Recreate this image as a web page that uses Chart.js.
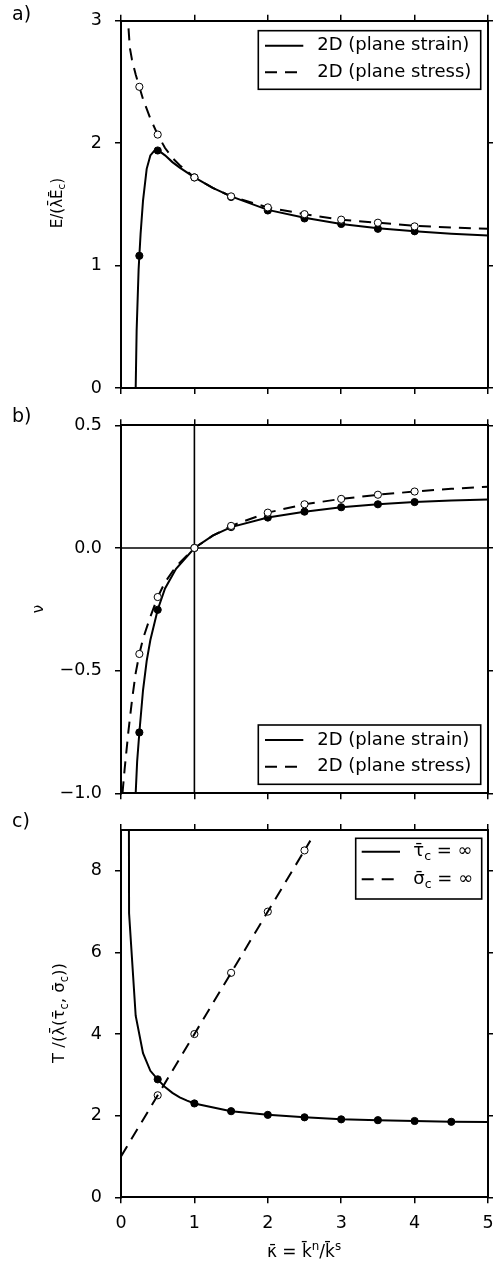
<!DOCTYPE html>
<html>
<head>
<meta charset="utf-8">
<script src="https://cdn.jsdelivr.net/npm/chart.js@4.4.1/dist/chart.umd.min.js"></script>
<style>
  html, body { margin: 0; padding: 0; background: #fff; }
  body { width: 493px; height: 1266px; position: relative; overflow: hidden; }
  canvas { position: absolute; left: 0; }
</style>
</head>
<body>
<canvas id="chartA" width="493" height="405" style="top:0px"></canvas>
<canvas id="chartB" width="493" height="407" style="top:405px"></canvas>
<canvas id="chartC" width="493" height="454" style="top:812px"></canvas>
<script>
// tick values
const xTicks = [0, 1, 2, 3, 4, 5];
const aTicks = [0, 1, 2, 3];
const bTicks = [-1.0, -0.5, 0.0, 0.5];
const cTicks = [0, 2, 4, 6, 8];

// marker positions shared by a) and b)
const markKappa = [0.25, 0.5, 1, 1.5, 2, 2.5, 3, 3.5, 4];

// a) Young's modulus
const aStrainMarks = [1.08, 1.94, 1.72, 1.56, 1.45, 1.385, 1.34, 1.30, 1.28];
const aStressMarks = [2.46, 2.07, 1.72, 1.565, 1.475, 1.42, 1.375, 1.35, 1.32];
const aStrainKappa = [0.2, 0.213, 0.24, 0.25, 0.267, 0.3, 0.35, 0.4, 0.45, 0.5, 0.6, 0.7, 0.8, 1.0, 1.25, 1.5, 2, 2.5, 3, 3.5, 4, 4.5, 5];
const aStrainE     = [0, 0.47, 0.97, 1.08, 1.26, 1.53, 1.79, 1.9, 1.935, 1.945, 1.9, 1.845, 1.8, 1.72, 1.635, 1.565, 1.455, 1.39, 1.34, 1.305, 1.28, 1.26, 1.245];
const aStressKappa = [0.09, 0.1, 0.12, 0.15, 0.2, 0.25, 0.3, 0.4, 0.5, 0.6, 0.7, 0.8, 1.0, 1.25, 1.5, 2, 2.5, 3, 3.5, 4, 4.5, 5];
const aStressE     = [3.1, 2.96, 2.78, 2.68, 2.56, 2.46, 2.36, 2.2, 2.07, 1.96, 1.88, 1.82, 1.72, 1.635, 1.565, 1.475, 1.42, 1.375, 1.35, 1.325, 1.31, 1.30];

// b) Poisson's ratio
const bStrainMarks = [-0.752, -0.252, 0, 0.085, 0.124, 0.148, 0.166, 0.178, 0.187];
const bStressMarks = [-0.432, -0.20, 0, 0.09, 0.144, 0.178, 0.2, 0.217, 0.23];
const bStrainKappa = [0.2, 0.22, 0.25, 0.3, 0.35, 0.4, 0.5, 0.6, 0.75, 1.0, 1.25, 1.5, 2, 2.5, 3, 3.5, 4, 4.5, 5];
const bStrainNu    = [-1.0, -0.87, -0.752, -0.58, -0.46, -0.375, -0.252, -0.165, -0.085, 0, 0.05, 0.085, 0.124, 0.148, 0.166, 0.178, 0.187, 0.193, 0.198];
const bStressKappa = [0.02, 0.05, 0.1, 0.15, 0.2, 0.25, 0.3, 0.4, 0.5, 0.6, 0.75, 1.0, 1.25, 1.5, 2, 2.5, 3, 3.5, 4, 4.5, 5];
const bStressNu    = [-1.0, -0.9, -0.75, -0.62, -0.51, -0.432, -0.37, -0.28, -0.20, -0.14, -0.075, 0, 0.05, 0.09, 0.144, 0.178, 0.2, 0.217, 0.23, 0.241, 0.25];
const bVertKappa = [1, 1];
const bVertNu = [-1.0, 0.5];
const bHorKappa = [0, 5];
const bHorNu = [0, 0];

// c) strength
const cTauKappa = [0.5, 1, 1.5, 2, 2.5, 3, 3.5, 4, 4.5];
const cTauMarks = [2.89, 2.30, 2.11, 2.02, 1.96, 1.91, 1.89, 1.87, 1.85];
const cSigmaKappa = [0.5, 1, 1.5, 2, 2.5];
const cSigmaMarks = [2.5, 4.0, 5.5, 7.0, 8.5];
const cTauCurveKappa = [0.105, 0.11, 0.2, 0.3, 0.4, 0.5, 0.6, 0.7, 0.8, 0.9, 1.0, 1.5, 2, 2.5, 3, 3.5, 4, 4.5, 5];
const cTauCurveT     = [12, 6.96, 4.45, 3.53, 3.1, 2.89, 2.7, 2.56, 2.45, 2.37, 2.30, 2.11, 2.02, 1.96, 1.91, 1.89, 1.87, 1.85, 1.845];
const cSigmaCurveKappa = [0, 2.58];
const cSigmaCurveT = [1.0, 8.74];

Chart.defaults.font.family = '"DejaVu Sans", sans-serif';
Chart.defaults.color = '#000';

const pts = (xs, ys) => xs.map((x, i) => ({ x: x, y: ys[i] }));

const solid = (data) => ({ data, borderColor: '#000', borderWidth: 2, pointRadius: 0, fill: false, tension: 0 });
const dashed = (data) => Object.assign(solid(data), { borderDash: [12, 8] });
const thin = (data) => Object.assign(solid(data), { borderWidth: 1.6 });
const filled = (data) => ({ data, showLine: false, pointRadius: 3.6, pointBackgroundColor: '#000', pointBorderColor: '#000', pointBorderWidth: 1 });
const open = (data) => ({ data, showLine: false, pointRadius: 3.6, pointBackgroundColor: '#fff', pointBorderColor: '#000', pointBorderWidth: 1 });

// text with sub/superscripts, drawn straight on the canvas
function rich(ctx, parts, x, y, size, rotate, align) {
  ctx.save();
  ctx.translate(x, y);
  if (rotate) ctx.rotate(-Math.PI / 2);
  const fontOf = k => (k ? size * 0.7 : size) + 'px "DejaVu Sans"';
  let total = 0;
  const widths = parts.map(p => { ctx.font = fontOf(p[1]); const w = ctx.measureText(p[0]).width; total += w; return w; });
  let cx = align === 'left' ? 0 : -total / 2;
  ctx.textBaseline = 'middle';
  ctx.textAlign = 'left';
  ctx.fillStyle = '#000';
  parts.forEach((p, i) => {
    ctx.font = fontOf(p[1]);
    const dy = p[1] === 'sub' ? size * 0.3 : p[1] === 'sup' ? -size * 0.35 : 0;
    ctx.fillText(p[0], cx, dy);
    cx += widths[i];
  });
  ctx.restore();
}

const decor = {
  id: 'decor',
  afterDraw(chart, args, o) {
    const ctx = chart.ctx;
    const off = o.offset;
    ctx.save();
    ctx.fillStyle = '#000';
    ctx.font = '19px "DejaVu Sans"';
    ctx.textBaseline = 'middle';
    ctx.textAlign = 'left';
    ctx.fillText(o.tag, 12, o.tagY - off);
    rich(ctx, o.yTitle, o.yTitleX, o.yTitleY - off, o.yTitleSize, true, 'center');
    if (o.xTitle) rich(ctx, o.xTitle, o.xTitleX, o.xTitleY - off, 17, false, 'center');

    const L = o.legend;
    ctx.fillStyle = '#fff';
    ctx.fillRect(L.x1, L.y1 - off, L.x2 - L.x1, L.y2 - L.y1);
    ctx.strokeStyle = '#000';
    ctx.lineWidth = 1.6;
    ctx.strokeRect(L.x1, L.y1 - off, L.x2 - L.x1, L.y2 - L.y1);
    L.rows.forEach(r => {
      const ds = chart.data.datasets[r.ds];
      ctx.beginPath();
      ctx.setLineDash(ds.borderDash || []);
      ctx.lineWidth = ds.borderWidth;
      ctx.moveTo(L.sx1, r.y - off);
      ctx.lineTo(L.sx2, r.y - off);
      ctx.stroke();
      ctx.setLineDash([]);
      rich(ctx, r.label, L.tx, r.y - off, L.size, false, 'left');
    });
    ctx.restore();
  }
};

function axis(pos, min, max, ticks, size, showLabels, fmt) {
  const horiz = pos === 'top' || pos === 'bottom';
  return {
    type: 'linear',
    axis: horiz ? 'x' : 'y',
    position: pos,
    min: min,
    max: max,
    afterBuildTicks: s => { s.ticks = ticks.map(v => ({ value: v })); },
    afterFit: s => {
      if (horiz) s.height = size; else s.width = size;
      s.paddingLeft = 0; s.paddingRight = 0; s.paddingTop = 0; s.paddingBottom = 0;
    },
    grid: { drawOnChartArea: false, drawTicks: true, tickLength: 6, color: '#000', lineWidth: 1.5 },
    border: { display: true, color: '#000', width: 2 },
    ticks: {
      display: showLabels,
      padding: horiz ? 10 : 13,
      font: { size: 17.5 },
      color: '#000',
      autoSkip: false,
      maxRotation: 0,
      callback: fmt || (v => String(v))
    }
  };
}

function panel(id, c) {
  return new Chart(document.getElementById(id), {
    type: 'line',
    data: { datasets: c.datasets },
    options: {
      responsive: false,
      animation: false,
      events: [],
      layout: { padding: 0 },
      plugins: { legend: { display: false }, tooltip: { enabled: false }, decor: c.decor },
      scales: {
        x: axis('bottom', 0, 5, xTicks, c.bottomH, c.showX),
        xTop: axis('top', 0, 5, xTicks, c.topH, false),
        y: axis('left', c.yMin, c.yMax, c.yTicks, 121, true, c.fmt),
        yRight: axis('right', c.yMin, c.yMax, c.yTicks, 3, false)
      }
    },
    plugins: [decor]
  });
}

const fmtMinus = v => v.toFixed(1).replace('-', '\u2212');
const planeLabels = [[['2D (plane strain)']], [['2D (plane stress)']]];

panel('chartA', {
  datasets: [
    open(pts(markKappa, aStressMarks)),
    filled(pts(markKappa, aStrainMarks)),
    dashed(pts(aStressKappa, aStressE)),
    solid(pts(aStrainKappa, aStrainE))
  ],
  yMin: 0, yMax: 3, yTicks: aTicks, topH: 20.7, bottomH: 17, showX: false,
  decor: {
    offset: 0, tag: 'a)', tagY: 15.5,
    yTitle: [['E/(\u03bb\u0304\u0112'], ['c', 'sub'], [')']], yTitleX: 58, yTitleY: 203, yTitleSize: 15,
    legend: { x1: 258.3, y1: 30.7, x2: 480.7, y2: 89.3, sx1: 265, sx2: 303.3, tx: 317.3, size: 18,
      rows: [{ ds: 3, y: 45.7, label: planeLabels[0] }, { ds: 2, y: 72.3, label: planeLabels[1] }] }
  }
});

panel('chartB', {
  datasets: [
    open(pts(markKappa, bStressMarks)),
    filled(pts(markKappa, bStrainMarks)),
    dashed(pts(bStressKappa, bStressNu)),
    solid(pts(bStrainKappa, bStrainNu)),
    thin(pts(bVertKappa, bVertNu)),
    thin(pts(bHorKappa, bHorNu))
  ],
  yMin: -1, yMax: 0.5, yTicks: bTicks, topH: 20.3, bottomH: 18.7, showX: false, fmt: fmtMinus,
  decor: {
    offset: 405, tag: 'b)', tagY: 417.5,
    yTitle: [['\u03bd']], yTitleX: 39, yTitleY: 609, yTitleSize: 15,
    legend: { x1: 258.3, y1: 725, x2: 480.7, y2: 784.3, sx1: 265, sx2: 303.3, tx: 317.3, size: 18,
      rows: [{ ds: 3, y: 740, label: planeLabels[0] }, { ds: 2, y: 766.7, label: planeLabels[1] }] }
  }
});

panel('chartC', {
  datasets: [
    dashed(pts(cSigmaCurveKappa, cSigmaCurveT)),
    open(pts(cSigmaKappa, cSigmaMarks)),
    filled(pts(cTauKappa, cTauMarks)),
    solid(pts(cTauCurveKappa, cTauCurveT))
  ],
  yMin: 0, yMax: 9, yTicks: cTicks, topH: 18, bottomH: 68.7, showX: true,
  decor: {
    offset: 812, tag: 'c)', tagY: 822.5,
    yTitle: [['T /(\u03bb\u0304(\u03c4\u0304'], ['c', 'sub'], [', \u03c3\u0304'], ['c', 'sub'], ['))']], yTitleX: 60, yTitleY: 1013, yTitleSize: 16.5,
    xTitle: [['\u03ba\u0304 = k\u0304'], ['n', 'sup'], ['/k\u0304'], ['s', 'sup']], xTitleX: 304, xTitleY: 1253,
    legend: { x1: 355.7, y1: 838.3, x2: 481.7, y2: 899, sx1: 361.7, sx2: 400, tx: 413.3, size: 18,
      rows: [{ ds: 3, y: 851.7, label: [['\u03c4\u0304'], ['c', 'sub'], [' = \u221e']] },
             { ds: 0, y: 879.3, label: [['\u03c3\u0304'], ['c', 'sub'], [' = \u221e']] }] }
  }
});
</script>
</body>
</html>
